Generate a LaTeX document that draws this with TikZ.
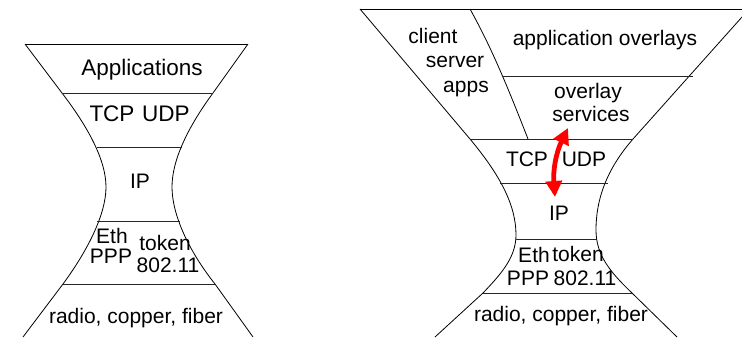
\documentclass[tikz,border=0pt]{standalone}
\usepackage{fontspec}
\setmainfont{Liberation Sans}
\usepackage{tikz}
\usetikzlibrary{arrows.meta}
\tikzstyle{layertext} = [inner sep=0pt, text height=1.5ex, text depth=.25ex, font=\fontsize{21}{24}\selectfont]
\tikzstyle{bigtext} = [layertext, font=\fontsize{22.5}{26}\selectfont]
\tikzstyle{glass} = [line width=0.8pt, black]
\tikzstyle{divline} = [line width=1pt, black!85]
\tikzstyle{hop} = [line width=4.8pt, red, {Triangle[length=16pt,width=16pt]}-{Triangle[length=16pt,width=16pt]}]

\begin{document}
\begin{tikzpicture}[x=1pt,y=-1pt]
\useasboundingbox (0,0) rectangle (742,338);

% left: the narrow waist
\draw[glass] (25,44) -- (248,44);
\draw[glass] (25,44) -- (62,93) .. controls (88,127) and (106,160) .. (106,187)
  .. controls (106,214) and (88,250) .. (63,284) -- (23,337);
\draw[glass] (248,44) -- (213,93) .. controls (188,127) and (172,160) .. (172,187)
  .. controls (172,214) and (188,250) .. (215,284) -- (253,337);
\draw[divline] (62,93) -- (213,93);
\draw[divline] (97,147) -- (182,147);
\draw[divline] (97,221) -- (180,221);
\draw[divline] (63,284) -- (215,284);

\node (apps1) [bigtext] at (142,72) {Applications};
\node (tcp1) [bigtext] at (112,118) {TCP};
\node (udp1) [bigtext] at (166,118) {UDP};
\node (ip1) [layertext] at (140,185) {IP};
\node (eth1) [layertext] at (112,240) {Eth};
\node (ppp1) [layertext] at (111,260) {PPP};
\node (tok1) [layertext] at (165,247) {token};
\node (wifi1) [layertext] at (168,269) {802.11};
\node (phy1) [layertext] at (136,320) {radio, copper, fiber};

% right: overlays on top
\draw[glass] (360,9) -- (742,9);
\draw[glass] (360,9) -- (470,139) .. controls (500,175) and (516,205) .. (516,235)
  .. controls (516,258) and (500,275) .. (483,293) -- (435,337);
\draw[glass] (742,17) -- (633,139) .. controls (606,170) and (596,200) .. (596,230)
  .. controls (596,255) and (610,272) .. (632,293) -- (677,337);
\draw[glass] (470,9) .. controls (490,45) and (505,80) .. (528,139);
\draw[divline] (502,76) -- (693,76);
\draw[divline] (470,139) -- (633,139);
\draw[divline] (500,183) -- (608,183);
\draw[divline] (516,239) -- (597,239);
\draw[divline] (483,293) -- (632,293);

\node (client2) [layertext] at (433,40) {client};
\node (server2) [layertext] at (455,64) {server};
\node (apps2) [layertext] at (466,89) {apps};
\node (ovl2) [layertext] at (605,42) {application overlays};
\node (ovs2) [layertext] at (588,95) {overlay};
\node (svc2) [layertext] at (591,118) {services};
\node (tcp2) [layertext] at (527,163) {TCP};
\node (udp2) [layertext] at (584,163) {UDP};
\node (ip2) [layertext] at (559,217) {IP};
\node (eth2) [layertext] at (534,259) {Eth};
\node (tok2) [layertext] at (578,258) {token};
\node (ppp2) [layertext] at (528,282) {PPP};
\node (wifi2) [layertext] at (585,282) {802.11};
\node (phy2) [layertext] at (561,318) {radio, copper, fiber};

\coordinate (up) at (568,128);
\coordinate (down) at (555,197);
\draw[hop] (up) to[bend right=15] (down);
\end{tikzpicture}
\end{document}
